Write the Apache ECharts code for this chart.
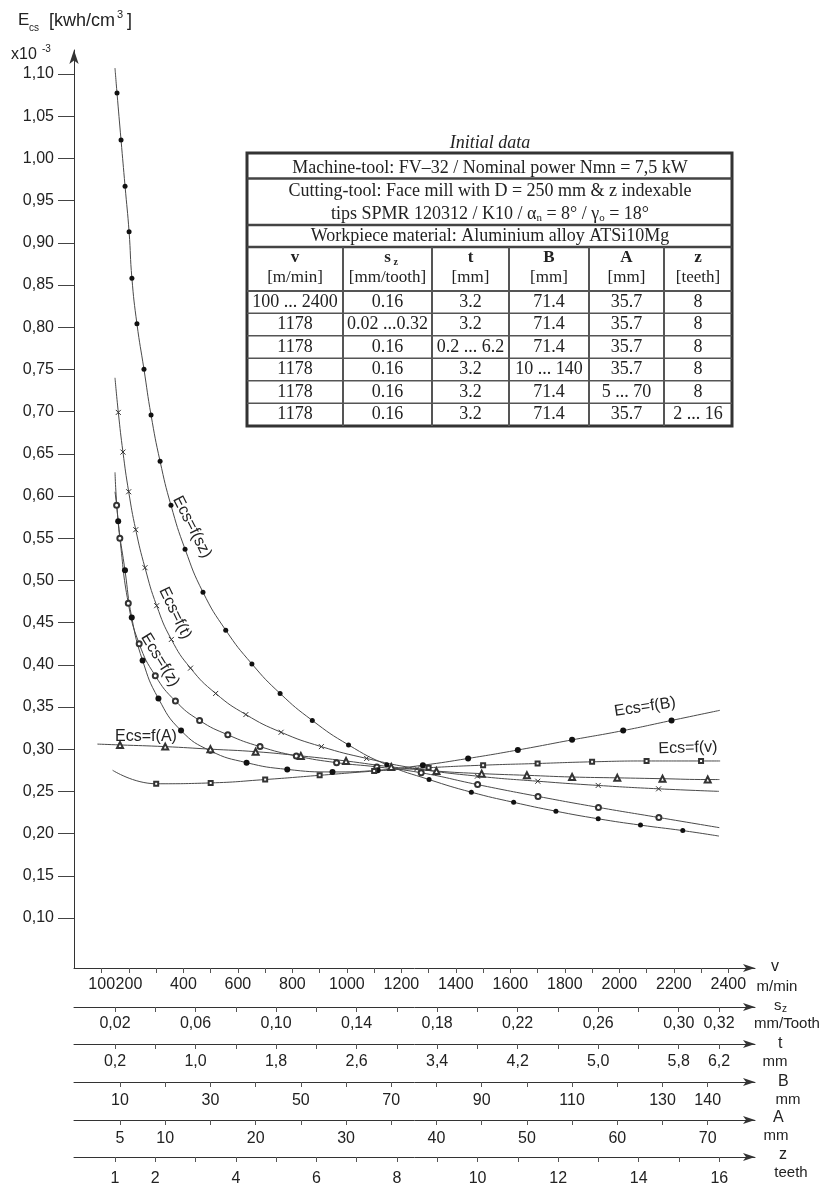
<!DOCTYPE html>
<html><head><meta charset="utf-8">
<script src="https://cdn.jsdelivr.net/npm/echarts@6/dist/echarts.min.js"></script>
<style>html,body{margin:0;padding:0;background:#fff}#c{width:825px;height:1190px}</style>
</head><body><div id="c"></div>
<script>
// ---------- tick values / labels ----------
const yTicks = [0.10,0.15,0.20,0.25,0.30,0.35,0.40,0.45,0.50,0.55,0.60,0.65,0.70,0.75,0.80,0.85,0.90,0.95,1.00,1.05,1.10];
const vTicks = [100,200,300,400,500,600,700,800,900,1000,1100,1200,1300,1400,1500,1600,1700,1800,1900,2000,2100,2200,2300,2400];
const vLabels = [100,200,400,600,800,1000,1200,1400,1600,1800,2000,2200,2400];
const szTicks = [0.02,0.04,0.06,0.08,0.10,0.12,0.14,0.16,0.18,0.20,0.22,0.24,0.26,0.28,0.30,0.32];
const szLabels = [0.02,0.06,0.10,0.14,0.18,0.22,0.26,0.30,0.32];
const tTicks = [0.2,0.6,1.0,1.4,1.8,2.2,2.6,3.0,3.4,3.8,4.2,4.6,5.0,5.4,5.8,6.2];
const tLabels = [0.2,1.0,1.8,2.6,3.4,4.2,5.0,5.8,6.2];
const bTicks = [10,20,30,40,50,60,70,80,90,100,110,120,130,140];
const bLabels = [10,30,50,70,90,110,130,140];
const aTicks = [5,10,15,20,25,30,35,40,45,50,55,60,65,70];
const aLabels = [5,10,20,30,40,50,60,70];
const zTicks = [1,2,3,4,5,6,7,8,9,10,11,12,13,14,15,16];
const zLabels = [1,2,4,6,8,10,12,14,16];

// ---------- curves (E in 10^-3 kWh/cm3) ----------
// Ecs = f(sz)  (filled dots)
const szLineStart = [0.0200, 1.107];
const szX = [0.021,0.023,0.025,0.027,0.0284,0.0309,0.0344,0.0379,0.0424,0.0478,0.0548,0.0637,0.075,0.088,0.102,0.118,0.136,0.155,0.176,0.197,0.218,0.239,0.260,0.281,0.302];
const szE = [1.0775,1.0218,0.967,0.913,0.858,0.804,0.750,0.696,0.641,0.589,0.537,0.486,0.441,0.401,0.366,0.334,0.305,0.2815,0.264,0.249,0.237,0.2265,0.2175,0.210,0.2035];
const szLineEnd = [0.320, 0.197];
// Ecs = f(t)  (crosses)
const tLineStart = [0.20, 0.740];
const tX = [0.233,0.279,0.336,0.406,0.498,0.614,0.76,0.95,1.20,1.50,1.85,2.25,2.70,3.20,3.80,4.40,5.00,5.60];
const tE = [0.699,0.652,0.605,0.560,0.515,0.470,0.430,0.396,0.366,0.341,0.320,0.303,0.289,0.277,0.268,0.262,0.257,0.253];
const tLineEnd = [6.20, 0.250];
// Ecs = f(z)  (open circles)
const zLineStart = [1.00, 0.605];
const zX = [1.04,1.12,1.33,1.6,2.0,2.5,3.1,3.8,4.6,5.5,6.5,7.5,8.6,10.0,11.5,13.0,14.5];
const zE = [0.589,0.550,0.473,0.425,0.387,0.357,0.334,0.317,0.303,0.292,0.284,0.279,0.272,0.258,0.244,0.231,0.219];
const zLineEnd = [16.0, 0.207];
// Ecs = f(B)  (filled dots)
const bLineStart = [8.9, 0.628];
const bX = [9.6,11.1,12.6,15,18.5,23.5,30,38,47,57,67,77,87,98,110,121.3,132];
const bE = [0.570,0.512,0.456,0.405,0.360,0.322,0.298,0.284,0.276,0.273,0.275,0.281,0.289,0.299,0.311,0.322,0.334];
const bLineEnd = [142.7, 0.346];
// Ecs = f(v)  (open squares)
const vLineStart = [140, 0.275];
const vX = [300,500,700,900,1100,1300,1500,1700,1900,2100,2300];
const vE = [0.259,0.260,0.264,0.269,0.274,0.278,0.281,0.283,0.285,0.286,0.286];
const vLineEnd = [2370, 0.286];
// Ecs = f(A)  (open triangles)
const aLineStart = [2.5, 0.306];
const aX = [5,10,15,20,25,30,35,40,45,50,55,60,65,70];
const aE = [0.305,0.303,0.300,0.297,0.292,0.286,0.279,0.274,0.271,0.269,0.267,0.266,0.265,0.264];
const aLineEnd = [71.3, 0.264];

// ---------- table ----------
const tableTitle = 'Initial data';
const tableLine1 = 'Machine-tool: FV\u201332 / Nominal power Nmn = 7,5 kW';
const tableLine2 = 'Cutting-tool: Face mill with D = 250 mm & z indexable';
const tableLine4 = 'Workpiece material: Aluminium alloy ATSi10Mg';
const tableHeads = ['v','s','t','B','A','z'];
const tableUnits = ['[m/min]','[mm/tooth]','[mm]','[mm]','[mm]','[teeth]'];
const tableRows = [
  ['100 ... 2400','0.16','3.2','71.4','35.7','8'],
  ['1178','0.02 ...0.32','3.2','71.4','35.7','8'],
  ['1178','0.16','0.2 ... 6.2','71.4','35.7','8'],
  ['1178','0.16','3.2','10 ... 140','35.7','8'],
  ['1178','0.16','3.2','71.4','5 ... 70','8'],
  ['1178','0.16','3.2','71.4','35.7','2 ... 16']
];

// ---------- helpers ----------
const SANS = 'Liberation Sans, Arial, sans-serif';
const SERIF = 'Liberation Serif, Times New Roman, serif';
const INK = '#222';
const comma = d => v => v.toFixed(d).replace('.', ',');

function xAx(min, max, offset, ticks, labels, fmt, margin) {
  return {
    type: 'value', gridIndex: 0, position: 'bottom', offset: offset, min: min, max: max,
    axisLine: { show: true, onZero: false, symbol: ['none', 'arrow'], symbolSize: [6, 12], lineStyle: { color: '#333', width: 1 } },
    axisTick: { show: true, length: 5, customValues: ticks, lineStyle: { color: '#555', width: 1 } },
    axisLabel: { customValues: labels, formatter: fmt, margin: margin, fontSize: 16, color: INK, fontFamily: SANS, hideOverlap: false },
    splitLine: { show: false }
  };
}
function pts(start, xs, ys, end) {
  const d = [{ value: start, symbol: 'none' }];
  xs.forEach((x, i) => d.push([x, ys[i]]));
  d.push({ value: end, symbol: 'none' });
  return d;
}
function curve(axisIdx, data, symbol, size, filled) {
  return {
    type: 'line', xAxisIndex: axisIdx, yAxisIndex: 0, data: data, smooth: 0.5,
    symbol: symbol, symbolSize: size, showAllSymbol: true, silent: true,
    lineStyle: { color: '#4a4a4a', width: 1 },
    itemStyle: filled ? { color: '#111', borderWidth: 0 } : { color: '#333', borderColor: '#333', borderWidth: 1 }
  };
}

// ---------- graphic (titles, units, table, curve labels) ----------
const G = [];
function txt(x, y, s, o) {
  G.push({ type: 'text', x: x, y: y, rotation: (o && o.rot) || 0, z: 100, silent: true,
    style: Object.assign({ text: s, fill: INK, fontSize: 16, fontFamily: SANS, align: 'left', verticalAlign: 'middle' }, o || {}) });
}
function line(x1, y1, x2, y2, w, c) {
  G.push({ type: 'line', z: 99, silent: true, shape: { x1: x1, y1: y1, x2: x2, y2: y2 }, style: { stroke: c || '#444', lineWidth: w } });
}
// y-axis title
txt(18, 20, 'E', { fontSize: 17 });
txt(29, 28, 'cs', { fontSize: 10 });
txt(49, 21, '[kwh/cm', { fontSize: 18 });
txt(117, 15, '3', { fontSize: 11 });
txt(127, 21, ']', { fontSize: 18 });
txt(11, 55, 'x10', { fontSize: 16 });
txt(42, 49, '-3', { fontSize: 10 });
// axis units (right side)
txt(771, 967, 'v', { fontSize: 16 });
txt(777, 987, 'm/min', { fontSize: 15, align: 'center' });
txt(774, 1006, 's', { fontSize: 15 });
txt(782, 1009, 'z', { fontSize: 10 });
txt(787, 1024, 'mm/Tooth', { fontSize: 15, align: 'center' });
txt(778, 1044, 't', { fontSize: 16 });
txt(775, 1062, 'mm', { fontSize: 15, align: 'center' });
txt(778, 1082, 'B', { fontSize: 16 });
txt(788, 1100, 'mm', { fontSize: 15, align: 'center' });
txt(773, 1118, 'A', { fontSize: 16 });
txt(776, 1136, 'mm', { fontSize: 15, align: 'center' });
txt(779, 1155, 'z', { fontSize: 16 });
txt(791, 1173, 'teeth', { fontSize: 15, align: 'center' });
// curve labels
txt(192, 527, 'Ecs=f(sz)', { fontSize: 16, align: 'center', rot: -1.10 });
txt(175, 613, 'Ecs=f(t)', { fontSize: 16, align: 'center', rot: -1.12 });
txt(160, 660, 'Ecs=f(z)', { fontSize: 16, align: 'center', rot: -1.02 });
txt(146, 737, 'Ecs=f(A)', { fontSize: 16, align: 'center' });
txt(645, 707, 'Ecs=f(B)', { fontSize: 16, align: 'center', rot: 0.15 });
txt(688, 748, 'Ecs=f(v)', { fontSize: 16, align: 'center', rot: 0.03 });

// table
const colX = [247, 343, 432, 509, 589, 664, 732];
const rowY = [291, 313.3, 335.7, 358.3, 380.7, 403.3, 426];
G.push({ type: 'rect', z: 98, silent: true, shape: { x: colX[0], y: 153, width: colX[6] - colX[0], height: 426 - 153 }, style: { fill: '#fff', stroke: '#333', lineWidth: 3 } });
const TF = 18;
txt(490, 143, tableTitle, { fontFamily: SERIF, fontSize: TF, fontStyle: 'italic', align: 'center' });
txt(490, 168, tableLine1, { fontFamily: SERIF, fontSize: TF, align: 'center' });
line(247, 178.5, 732, 178.5, 2.5);
txt(490, 191, tableLine2, { fontFamily: SERIF, fontSize: TF, align: 'center' });
G.push({ type: 'text', x: 490, y: 214, z: 100, silent: true, style: {
  text: '{n|tips SPMR 120312 / K10 / \u03b1}{s|n}{n| = 8\u00b0 / \u03b3}{s|o}{n| = 18\u00b0}',
  align: 'center', verticalAlign: 'middle', fill: INK,
  rich: { n: { fontFamily: SERIF, fontSize: TF, fill: INK }, s: { fontFamily: SERIF, fontSize: 11, fill: INK, padding: [8, 0, 0, 0] } } } });
line(247, 225, 732, 225, 2.5);
txt(490, 236.5, tableLine4, { fontFamily: SERIF, fontSize: TF, align: 'center' });
line(247, 247, 732, 247, 2.5);
for (let i = 1; i < 6; i++) line(colX[i], 247, colX[i], 426, 2, '#555');
rowY.slice(0, 6).forEach((y, i) => line(247, y, 732, y, i === 0 ? 2 : 1.5, '#555'));
tableHeads.forEach((h, i) => {
  const cx = (colX[i] + colX[i + 1]) / 2;
  txt(cx, 258, h, { fontFamily: SERIF, fontSize: 17, fontWeight: 'bold', align: 'center' });
  txt(cx, 278, tableUnits[i], { fontFamily: SERIF, fontSize: 17, align: 'center' });
});
txt((colX[1] + colX[2]) / 2 + 6, 262, 'z', { fontFamily: SERIF, fontSize: 10, fontWeight: 'bold' });
tableRows.forEach((r, j) => {
  const cy = (rowY[j] + rowY[j + 1]) / 2;
  r.forEach((c, i) => txt((colX[i] + colX[i + 1]) / 2, cy, c, { fontFamily: SERIF, fontSize: TF, align: 'center' }));
});

// ---------- chart ----------
const chart = echarts.init(document.getElementById('c'), null, { renderer: 'canvas' });
chart.setOption({
  animation: false,
  backgroundColor: '#fff',
  grid: { left: 74, right: 70, top: 50, bottom: 222 },
  xAxis: [
    xAx(-1.69, 2498, 0, vTicks, vLabels, v => String(v), 9),
    xAx(-0.00036, 0.33788, 39, szTicks, szLabels, comma(2), 9),
    xAx(-0.2073, 6.5576, 76, tTicks, tLabels, comma(1), 10),
    xAx(-0.175, 150.46, 114, bTicks, bLabels, v => String(v), 11),
    xAx(-0.0876, 75.23, 152, aTicks, aLabels, v => String(v), 11),
    xAx(-0.0177, 16.886, 189, zTicks, zLabels, v => String(v), 14)
  ],
  yAxis: {
    type: 'value', min: 0.0407, max: 1.1284,
    axisLine: { show: true, onZero: false, symbol: ['none', 'arrow'], symbolSize: [7, 14], lineStyle: { color: '#333', width: 1 } },
    axisTick: { show: true, length: 16, customValues: yTicks, lineStyle: { color: '#444', width: 1 } },
    axisLabel: { customValues: yTicks, formatter: comma(2), margin: 20, fontSize: 16, color: INK, fontFamily: SANS },
    splitLine: { show: false }
  },
  series: [
    curve(1, pts(szLineStart, szX, szE, szLineEnd), 'circle', 5, true),
    curve(2, pts(tLineStart, tX, tE, tLineEnd), 'path://M0,0L10,10M10,0L0,10', 5, false),
    curve(5, pts(zLineStart, zX, zE, zLineEnd), 'emptyCircle', 5, false),
    curve(3, pts(bLineStart, bX, bE, bLineEnd), 'circle', 6, true),
    curve(0, pts(vLineStart, vX, vE, vLineEnd), 'emptyRect', 4, false),
    curve(4, pts(aLineStart, aX, aE, aLineEnd), 'emptyTriangle', 6, false)
  ],
  graphic: G
});
</script></body></html>
